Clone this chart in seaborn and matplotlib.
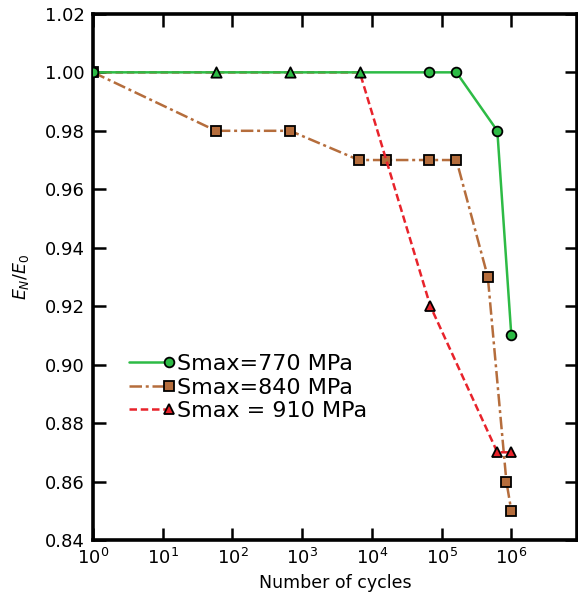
import pandas as pd
import numpy as np
import matplotlib
matplotlib.use('Agg')
import matplotlib.pyplot as plt
import seaborn as sns
from matplotlib.legend_handler import HandlerLine2D
from matplotlib.lines import Line2D

# data
cycles_770 = [1, 58, 670, 6700, 67000, 163000, 630000, 1000000]
ratio_770 = [1.00, 1.00, 1.00, 1.00, 1.00, 1.00, 0.98, 0.91]

cycles_840 = [1, 58, 670, 6500, 16000, 67000, 163000, 460000, 850000, 1000000]
ratio_840 = [1.00, 0.98, 0.98, 0.97, 0.97, 0.97, 0.97, 0.93, 0.86, 0.85]

cycles_910 = [1, 58, 670, 6700, 69000, 630000, 1000000]
ratio_910 = [1.00, 1.00, 1.00, 1.00, 0.92, 0.87, 0.87]

labels = ['Smax=770 MPa', 'Smax=840 MPa', 'Smax = 910 MPa']
colors = ['#2dbb45', '#b56d3c', '#e8232b']
markers = ['o', 's', '^']
dashes = ['', (5, 1.5, 1.2, 1.5), (3, 1.5)]

df = pd.concat([
    pd.DataFrame({'cycles': cycles_770, 'ratio': ratio_770, 'series': labels[0]}),
    pd.DataFrame({'cycles': cycles_840, 'ratio': ratio_840, 'series': labels[1]}),
    pd.DataFrame({'cycles': cycles_910, 'ratio': ratio_910, 'series': labels[2]}),
])


class MarkerRight(HandlerLine2D):
    # line with the marker sitting at its right end, like the original legend
    def create_artists(self, legend, orig_handle, xdescent, ydescent,
                       width, height, fontsize, trans):
        y = (height - ydescent) / 2
        line = Line2D([-xdescent, -xdescent + width], [y, y])
        self.update_prop(line, orig_handle, legend)
        line.set_marker('None')
        mk = Line2D([-xdescent + width], [y])
        self.update_prop(mk, orig_handle, legend)
        mk.set_linestyle('None')
        mk.set_markevery(None)
        line.set_transform(trans)
        mk.set_transform(trans)
        return [line, mk]


sns.set_theme(style='ticks')
plt.rcParams['font.family'] = ['DejaVu Sans']
plt.rcParams['text.color'] = 'black'
plt.rcParams['axes.labelcolor'] = 'black'

fig = plt.figure(figsize=(5.78, 6.04), dpi=100)
ax = fig.add_axes([0.161, 0.106, 0.837, 0.871])

# where the 770 and 910 curves share points only the triangle shows
shared = [i for i, (c, r) in enumerate(zip(cycles_910, ratio_910))
          if c in cycles_770 and r == 1.00 and i > 0]
mark_770 = [i for i, c in enumerate(cycles_770) if c not in [cycles_910[j] for j in shared]]
mark_910 = [i for i in range(len(cycles_910)) if i not in shared and i > 0]
markevery = {0: mark_770, 1: None, 2: mark_910}

order = [1, 2, 0]
z = {0: 4, 1: 2, 2: 3}
for i in order:
    sub = df[df['series'] == labels[i]]
    sns.lineplot(data=sub, x='cycles', y='ratio', ax=ax, color=colors[i],
                 marker=markers[i], markersize=7, markeredgecolor='black',
                 markeredgewidth=1.3, markerfacecolor=colors[i],
                 markevery=markevery[i],
                 linewidth=1.8, label=labels[i], zorder=z[i],
                 estimator=None, sort=False)
    if dashes[i]:
        ax.lines[-1].set_dashes(dashes[i])

# green-filled triangles at the shared points
sns.scatterplot(x=[cycles_910[j] for j in shared], y=[ratio_910[j] for j in shared],
                ax=ax, marker='^', s=55, color=colors[0], edgecolor='black',
                linewidth=1.3, zorder=5, legend=False)

ax.set_xscale('log')
ax.set_xlim(1, 10 ** 6.94)
ax.set_ylim(0.84, 1.02)
ax.set_xticks([10 ** k for k in range(7)])
ax.set_xticklabels([r'$10^{%d}$' % k for k in range(7)])
ax.xaxis.set_minor_locator(matplotlib.ticker.NullLocator())
ax.set_yticks(np.arange(0.84, 1.021, 0.02))
ax.set_yticklabels(['%.2f' % v for v in np.arange(0.84, 1.021, 0.02)])

ax.tick_params(direction='in', length=9, width=1.8, labelsize=13,
               top=True, right=True, colors='black', pad=6)
for s in ax.spines.values():
    s.set_linewidth(2.6)
    s.set_color('black')

ax.set_xlabel('Number of cycles', fontsize=12.5, labelpad=4)
ax.set_ylabel(r'$E_N/E_0$', fontsize=12.5, labelpad=10)

handles, labs = ax.get_legend_handles_labels()
hmap = dict(zip(labs, handles))
ax.legend([hmap[l] for l in labels], labels, loc='upper left',
          bbox_to_anchor=(0.055, 0.37), frameon=False, fontsize=16,
          handlelength=1.8, handletextpad=0.4, labelspacing=0.15,
          borderaxespad=0,
          handler_map={h: MarkerRight() for h in handles})

fig.savefig('out.png', dpi=100)
